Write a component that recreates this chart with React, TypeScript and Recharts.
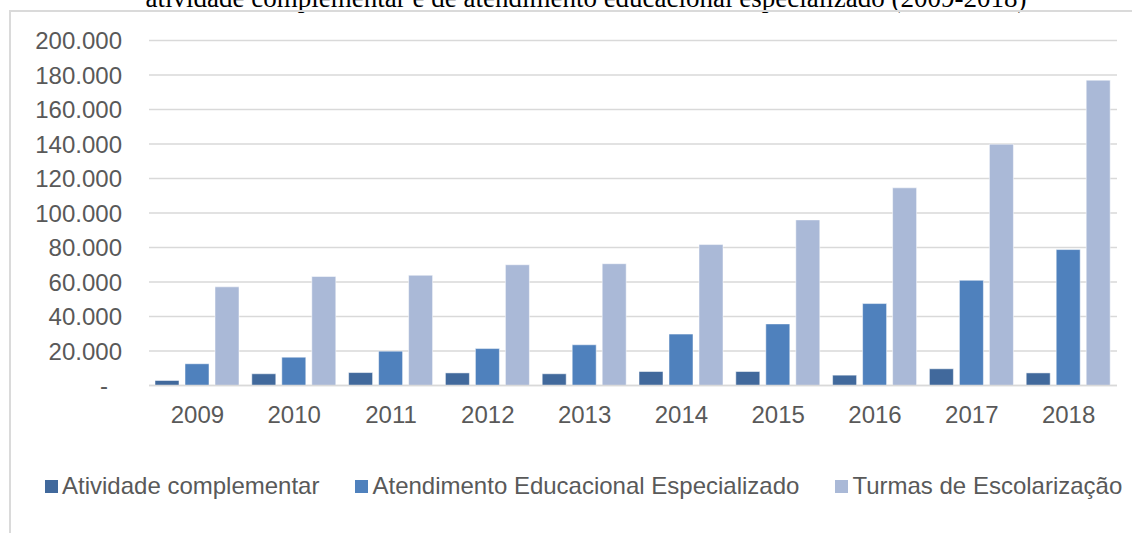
import { BarChart, Bar, XAxis, YAxis, CartesianGrid, Legend } from 'recharts';

// Matrículas por tipo de turma (2009-2018)
const years = ['2009', '2010', '2011', '2012', '2013', '2014', '2015', '2016', '2017', '2018'];
const atividadeComplementar = [2900, 6800, 7500, 7300, 6800, 8100, 8100, 6000, 9700, 7300];
const atendimentoEspecializado = [12600, 16400, 19900, 21400, 23600, 29800, 35700, 47500, 61000, 78800];
const turmasEscolarizacao = [57200, 63200, 63900, 70000, 70600, 81700, 96000, 114600, 139900, 177000];
const yTicks = [0, 20000, 40000, 60000, 80000, 100000, 120000, 140000, 160000, 180000, 200000];
const seriesNames = ['Atividade complementar', 'Atendimento Educacional Especializado', 'Turmas de Escolarização'];

const data = years.map((year, i) => ({
  year,
  atividade: atividadeComplementar[i],
  aee: atendimentoEspecializado[i],
  turmas: turmasEscolarizacao[i],
}));

const textColor = '#595959';
const fontFamily = '"Liberation Sans", Arial, sans-serif';

const formatThousands = (n: number) =>
  n === 0 ? '-' : String(n).replace(/\B(?=(\d{3})+(?!\d))/g, '.');

function YTick(props: any) {
  const { x, y, payload } = props;
  const isZero = payload.value === 0;
  return (
    <text
      x={x}
      y={y}
      dx={isZero ? -14 : 0}
      dy="0.355em"
      textAnchor="end"
      fill={textColor}
      fontSize={24}
      fontFamily={fontFamily}
    >
      {formatThousands(payload.value)}
    </text>
  );
}

function LegendContent(props: any) {
  const items = [...(props.payload || [])].sort(
    (a: any, b: any) => seriesNames.indexOf(a.value) - seriesNames.indexOf(b.value)
  );
  return (
    <div style={{ display: 'flex', alignItems: 'center', fontFamily, fontSize: 24, color: textColor }}>
      {items.map((entry: any) => (
        <div key={entry.value} style={{ display: 'flex', alignItems: 'center', marginRight: 36 }}>
          <span style={{ width: 13, height: 13, background: entry.color, marginRight: 4, display: 'inline-block' }} />
          <span style={{ whiteSpace: 'nowrap', lineHeight: '28px' }}>{entry.value}</span>
        </div>
      ))}
    </div>
  );
}

export default function App() {
  return (
    <div
      style={{
        position: 'absolute',
        left: 0,
        top: 0,
        width: 1132,
        height: 533,
        overflow: 'hidden',
        background: '#fff',
      }}
    >
      <div
        style={{
          position: 'absolute',
          top: -14.6,
          left: 0,
          width: 1172,
          textAlign: 'center',
          fontFamily: '"Liberation Serif", "Times New Roman", serif',
          fontSize: 27,
          lineHeight: '27px',
          color: '#000',
          whiteSpace: 'nowrap',
        }}
      >
        atividade complementar e de atendimento educacional especializado (2009-2018)
      </div>
      <div
        style={{
          position: 'absolute',
          left: 9,
          top: 10,
          width: 1200,
          height: 600,
          borderTop: '2px solid #dadada',
          borderLeft: '2px solid #dadada',
        }}
      />
      <div style={{ position: 'absolute', left: 0, top: 0 }}>
        <BarChart
          width={1132}
          height={533}
          data={data}
          margin={{ top: 40.5, right: 15, left: 49, bottom: 117.5 }}
          barCategoryGap={6}
          barGap={6}
        >
          <CartesianGrid horizontal vertical={false} stroke="#d9d9d9" strokeWidth={1.6} />
          <XAxis
            dataKey="year"
            height={30}
            tickSize={0}
            tickMargin={20}
            axisLine={{ stroke: '#d9d9d9', strokeWidth: 1.6 }}
            tick={{ fill: textColor, fontSize: 24, fontFamily }}
          />
          <YAxis
            width={100}
            domain={[0, 200000]}
            ticks={yTicks}
            interval={0}
            tickSize={0}
            tickMargin={27}
            axisLine={false}
            tickLine={false}
            tick={<YTick />}
          />
          <Legend
            layout="horizontal"
            verticalAlign="middle"
            align="center"
            content={<LegendContent />}
            wrapperStyle={{ position: 'absolute', top: 472, left: 45, width: 1100 }}
          />
          <Bar
            dataKey="atividade"
            name={seriesNames[0]}
            fill="#41699c"
            stroke="#ffffff"
            strokeOpacity={0.5}
            isAnimationActive={false}
          />
          <Bar
            dataKey="aee"
            name={seriesNames[1]}
            fill="#4f81bd"
            stroke="#ffffff"
            strokeOpacity={0.5}
            isAnimationActive={false}
          />
          <Bar
            dataKey="turmas"
            name={seriesNames[2]}
            fill="#aab9d7"
            stroke="#ffffff"
            strokeOpacity={0.5}
            isAnimationActive={false}
          />
        </BarChart>
      </div>
    </div>
  );
}
